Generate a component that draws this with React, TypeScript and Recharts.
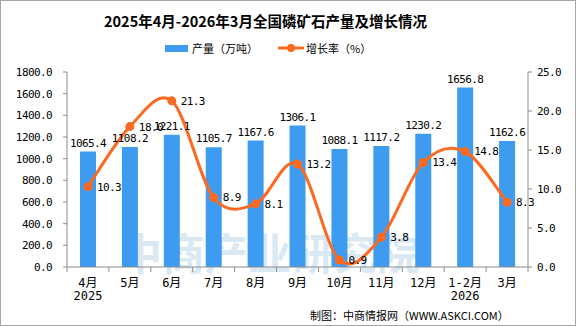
import { ComposedChart, Bar, Line, XAxis, YAxis, LabelList } from "recharts";

const months = ["4月", "5月", "6月", "7月", "8月", "9月", "10月", "11月", "12月", "1-2月", "3月"];
const years = ["2025", "", "", "", "", "", "", "", "", "2026", ""];
const output = [1065.4, 1108.2, 1221.1, 1105.7, 1167.6, 1306.1, 1088.1, 1117.2, 1230.2, 1656.8, 1162.6];
const growth = [10.3, 18.0, 21.3, 8.9, 8.1, 13.2, 0.9, 3.8, 13.4, 14.8, 8.3];
const leftTicks = [0, 200, 400, 600, 800, 1000, 1200, 1400, 1600, 1800];
const rightTicks = [0, 5, 10, 15, 20, 25];

const data = months.map((m, i) => ({ month: m, year: years[i], output: output[i], growth: growth[i] }));

const BLUE = "#3d9cf0";
const ORANGE = "#fc6a21";
const AXIS = "#8c8c8c";
const NUM_FONT = "'DejaVu Sans Mono', 'Noto Sans CJK SC', monospace";
const CJK_FONT = "'Noto Sans CJK SC', sans-serif";

const W = 576;
const H = 326;
const LEFT_W = 67;
const RIGHT_W = 48;
const BAND = (W - LEFT_W - RIGHT_W) / months.length;

// smooth curve like Excel's "smoothed line" (catmull-rom through the points)
function smoothCurve(context: any) {
  let pts: number[][] = [];
  return {
    areaStart() {},
    areaEnd() {},
    lineStart() {
      pts = [];
    },
    point(x: number, y: number) {
      pts.push([+x, +y]);
    },
    lineEnd() {
      if (!pts.length) return;
      context.moveTo(pts[0][0], pts[0][1]);
      for (let i = 0; i < pts.length - 1; i++) {
        const p0 = pts[Math.max(i - 1, 0)];
        const p1 = pts[i];
        const p2 = pts[i + 1];
        const p3 = pts[Math.min(i + 2, pts.length - 1)];
        context.bezierCurveTo(
          p1[0] + (p2[0] - p0[0]) / 6,
          p1[1] + (p2[1] - p0[1]) / 6,
          p2[0] - (p3[0] - p1[0]) / 6,
          p2[1] - (p3[1] - p1[1]) / 6,
          p2[0],
          p2[1]
        );
      }
    },
  };
}

function MonthTick(props: any) {
  const { x, y, payload, index } = props;
  const left = x - BAND / 2;
  return (
    <g>
      <line x1={left} x2={left} y1={y} y2={y + 5} stroke={AXIS} />
      {index === months.length - 1 && (
        <line x1={x + BAND / 2} x2={x + BAND / 2} y1={y} y2={y + 5} stroke={AXIS} />
      )}
      <text x={x} y={y + 20} textAnchor="middle" fontSize={12} fontFamily={NUM_FONT} fill="#000">
        {payload.value}
      </text>
      {years[index] && (
        <text x={x} y={y + 33} textAnchor="middle" fontSize={12} fontFamily={NUM_FONT} fill="#000">
          {years[index]}
        </text>
      )}
    </g>
  );
}

const numStyle = { fontSize: 11, fontFamily: NUM_FONT, fill: "#000", letterSpacing: -0.6 };

export default function App() {
  return (
    <div
      style={{
        position: "absolute",
        left: 0,
        top: 0,
        width: W,
        height: H,
        background: "#fff",
        border: "1px solid #a6a6a6",
        boxSizing: "border-box",
        overflow: "hidden",
      }}
    >
      <div
        style={{
          position: "absolute",
          left: 118,
          top: 225,
          whiteSpace: "nowrap",
          fontFamily: CJK_FONT,
          fontWeight: 700,
          fontSize: 43,
          lineHeight: "50px",
          color: "#d9e8f2",
        }}
      >
        中商产业研究院
      </div>
      <div style={{ position: "absolute", left: -1, top: -1 }}>
        <ComposedChart width={W} height={H} data={data} margin={{ top: 72, right: 0, bottom: 0, left: 0 }}>
          <XAxis
            dataKey="month"
            height={59}
            axisLine={{ stroke: AXIS }}
            tickLine={false}
            tickSize={0}
            tickMargin={0}
            interval={0}
            tick={<MonthTick />}
          />
          <YAxis
            yAxisId="left"
            width={LEFT_W}
            domain={[0, 1800]}
            ticks={leftTicks}
            tickFormatter={(v: number) => v.toFixed(1)}
            axisLine={{ stroke: AXIS }}
            tickLine={{ stroke: AXIS }}
            tickSize={4}
            tickMargin={11}
            tick={numStyle}
          />
          <YAxis
            yAxisId="right"
            orientation="right"
            width={RIGHT_W}
            domain={[0, 25]}
            ticks={rightTicks}
            tickFormatter={(v: number) => v.toFixed(1)}
            axisLine={{ stroke: AXIS }}
            tickLine={{ stroke: AXIS }}
            tickSize={4}
            tickMargin={5}
            tick={numStyle}
          />
          <Bar yAxisId="left" dataKey="output" fill={BLUE} barSize={16} isAnimationActive={false}>
            <LabelList
              dataKey="output"
              position="top"
              offset={5}
              formatter={(v: number) => v.toFixed(1)}
              style={numStyle}
            />
          </Bar>
          <Line
            yAxisId="right"
            dataKey="growth"
            type={smoothCurve as any}
            stroke={ORANGE}
            strokeWidth={3}
            dot={{ r: 4.5, fill: ORANGE, stroke: ORANGE, strokeWidth: 0 }}
            activeDot={false}
            isAnimationActive={false}
          >
            <LabelList
              dataKey="growth"
              position="right"
              offset={9}
              formatter={(v: number) => v.toFixed(1)}
              style={numStyle}
            />
          </Line>
        </ComposedChart>
      </div>
      <div
        style={{
          position: "absolute",
          left: 103,
          top: 9,
          whiteSpace: "nowrap",
          fontFamily: CJK_FONT,
          fontWeight: 700,
          fontSize: 14.5,
          lineHeight: "22px",
          color: "#000",
        }}
      >
        2025年4月-2026年3月全国磷矿石产量及增长情况
      </div>
      <div
        style={{
          position: "absolute",
          left: 164,
          top: 38,
          display: "flex",
          alignItems: "center",
          whiteSpace: "nowrap",
          fontFamily: CJK_FONT,
          fontSize: 11,
          lineHeight: "18px",
          color: "#000",
        }}
      >
        <span style={{ display: "inline-block", width: 23, height: 7, background: BLUE, marginRight: 4 }} />
        <span style={{ marginRight: 20 }}>产量（万吨）</span>
        <svg width={26} height={10} style={{ marginRight: 2 }}>
          <line x1={0} x2={26} y1={5} y2={5} stroke={ORANGE} strokeWidth={3} />
          <circle cx={13} cy={5} r={4} fill={ORANGE} />
        </svg>
        <span>增长率（%）</span>
      </div>
      <div
        style={{
          position: "absolute",
          left: 309,
          top: 305,
          whiteSpace: "nowrap",
          fontFamily: CJK_FONT,
          fontSize: 11,
          lineHeight: "18px",
          color: "#000",
        }}
      >
        制图：中商情报网（WWW.ASKCI.COM）
      </div>
    </div>
  );
}
